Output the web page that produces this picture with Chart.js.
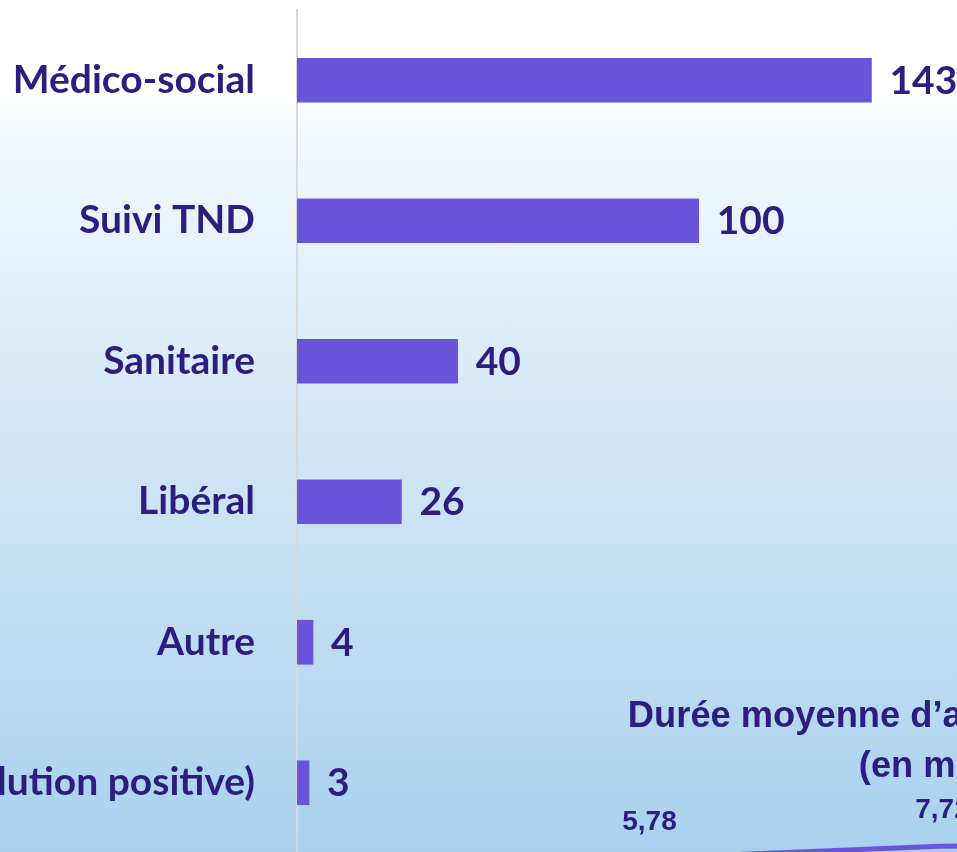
<!DOCTYPE html>
<html lang="fr">
<head>
<meta charset="utf-8">
<title>Orientations et durée moyenne d'accompagnement</title>
<script src="https://cdn.jsdelivr.net/npm/chart.js@4.4.1/dist/chart.umd.min.js"></script>
<style>
    html, body {
        margin: 0;
        padding: 0;
        width: 957px;
        height: 852px;
        overflow: hidden;
    }
    body {
        position: relative;
        background: linear-gradient(to bottom, #ffffff 0px, #ffffff 103px, #f8fbfe 104px, #e0eefa 300px, #c6e0f3 560px, #a9d1ee 852px);
    }
    #grafico-orientations {
        position: absolute;
        left: -250px;
        top: 0;
    }
    #grafico-duree {
        position: absolute;
        left: 500px;
        top: 690px;
    }
</style>
</head>
<body>
<canvas id="grafico-orientations" width="1250" height="853"></canvas>
<canvas id="grafico-duree" width="880" height="230"></canvas>

<script>
// ========================================================================
// 1. DONNÉES
// ========================================================================

const categories = ['Médico-social', 'Suivi TND', 'Sanitaire', 'Libéral', 'Autre', 'Sortie (évolution positive)'];
const orientations = [143, 100, 40, 26, 4, 3];

const periodes = ['2022', '2023', '2024'];
const dureeMoyenne = [5.78, 7.72, 8.0];
const titreDuree = ['Durée moyenne d’accompagnement', '(en mois)'];

const TEXTE = '#2d1d80';
const VIOLET = '#6a54da';
const POLICE_TITRE = '"Liberation Sans", Arial, sans-serif';

// ========================================================================
// 2. PLUGINS : ÉTIQUETTES DE VALEUR
// ========================================================================

const etiquettesBarres = {
    id: 'etiquettesBarres',
    afterDatasetsDraw(chart) {
        const ctx = chart.ctx;
        const meta = chart.getDatasetMeta(0);
        ctx.save();
        ctx.font = 'bold 39px Lato';
        ctx.fillStyle = TEXTE;
        ctx.textAlign = 'left';
        ctx.textBaseline = 'middle';
        meta.data.forEach((bar, i) => {
            ctx.fillText(String(chart.data.datasets[0].data[i]), bar.x + 18, bar.y + 1);
        });
        ctx.restore();
    }
};

const etiquettesPoints = {
    id: 'etiquettesPoints',
    afterDatasetsDraw(chart) {
        const ctx = chart.ctx;
        const meta = chart.getDatasetMeta(0);
        ctx.save();
        ctx.font = 'bold 28px ' + POLICE_TITRE;
        ctx.fillStyle = TEXTE;
        ctx.textAlign = 'center';
        ctx.textBaseline = 'middle';
        meta.data.forEach((pt, i) => {
            const v = chart.data.datasets[0].data[i];
            ctx.fillText(v.toFixed(2).replace('.', ','), pt.x + 3, pt.y - 36);
        });
        ctx.restore();
    }
};

// ========================================================================
// 3. GRAPHIQUES
// ========================================================================

function renderOrientations() {
    const ctx = document.getElementById('grafico-orientations').getContext('2d');
    new Chart(ctx, {
        type: 'bar',
        data: {
            labels: categories,
            datasets: [{
                data: orientations,
                backgroundColor: VIOLET,
                borderWidth: 0,
                barThickness: 44
            }]
        },
        options: {
            indexAxis: 'y',
            responsive: false,
            animation: false,
            layout: { padding: { top: 10, left: 0, right: 0, bottom: 0 } },
            scales: {
                x: { display: false, min: 0, max: 175 },
                y: {
                    afterFit: (scale) => {
                        // largeur fixe pour caler l'axe à x = 297 ; pas de marge verticale
                        scale.width = 547;
                        scale.paddingTop = 0;
                        scale.paddingBottom = 0;
                    },
                    grid: { display: false, drawTicks: false },
                    border: { display: true, color: '#d9d9d9', width: 2 },
                    ticks: {
                        padding: 42,
                        color: TEXTE,
                        font: { family: 'Lato', weight: 'bold', size: 39 }
                    }
                }
            },
            plugins: { legend: { display: false }, tooltip: { enabled: false } }
        },
        plugins: [etiquettesBarres]
    });
}

function renderDuree() {
    const canvas = document.getElementById('grafico-duree');
    const ctx = canvas.getContext('2d');

    // Taille du titre : "Durée " doit mesurer ~113 px, et la 1re ligne commencer à x = 628
    ctx.font = 'bold 36px ' + POLICE_TITRE;
    const taille = Math.round(36 * 113 / ctx.measureText('Durée ').width * 10) / 10;
    ctx.font = 'bold ' + taille + 'px ' + POLICE_TITRE;
    const centre = 628 + ctx.measureText(titreDuree[0]).width / 2;

    // canvas centré sur le titre (le titre est limité à la largeur de la zone de tracé)
    const gauche = 500;
    canvas.width = Math.round(2 * (centre - gauche));
    canvas.height = 230;
    canvas.style.left = gauche + 'px';

    new Chart(ctx, {
        type: 'line',
        data: {
            labels: periodes,
            datasets: [{
                data: dureeMoyenne,
                borderColor: VIOLET,
                borderWidth: 5,
                pointRadius: 0,
                tension: 0,
                fill: false
            }]
        },
        options: {
            responsive: false,
            animation: false,
            layout: { padding: { top: 0, left: 0, right: 0, bottom: 26 } },
            scales: {
                x: { display: false, offset: true },
                y: { display: false, min: 0, max: 16 }
            },
            plugins: {
                legend: { display: false },
                tooltip: { enabled: false },
                title: {
                    display: true,
                    text: titreDuree,
                    color: TEXTE,
                    font: { family: POLICE_TITRE, weight: 'bold', size: taille, lineHeight: 50 / taille },
                    padding: { top: 2, bottom: 3 }
                }
            }
        },
        plugins: [etiquettesPoints]
    });
}

// ========================================================================
// 4. INITIALISATION
// ========================================================================

document.addEventListener('DOMContentLoaded', () => {
    Promise.all([
        document.fonts.load('bold 39px Lato'),
        document.fonts.load('bold 36px "Liberation Sans"')
    ]).catch(() => null).then(() => {
        renderOrientations();
        renderDuree();
    });
});
</script>
</body>
</html>
